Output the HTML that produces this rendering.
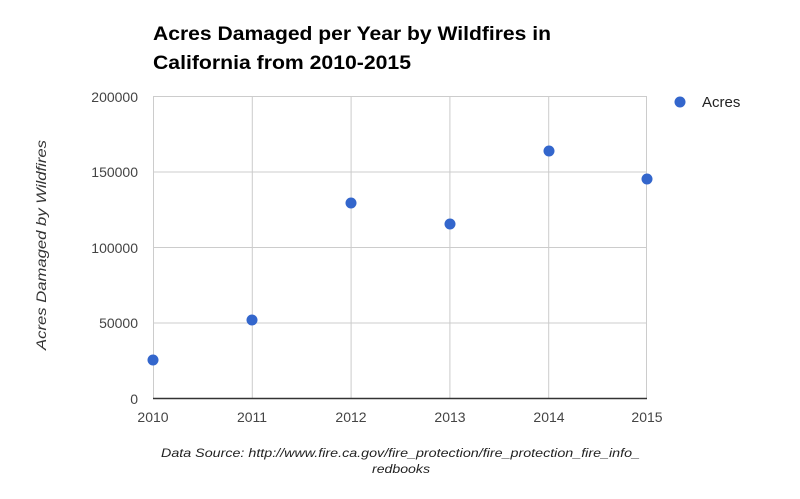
<!DOCTYPE html>
<html><head><style>body{margin:0;background:#fff}</style></head><body>
<svg width="800" height="494" xmlns="http://www.w3.org/2000/svg" font-family="Liberation Sans, sans-serif">
<rect width="800" height="494" fill="#fff"/>
<text x="153" y="40" font-size="19" font-weight="bold" fill="#000" textLength="398" lengthAdjust="spacingAndGlyphs">Acres Damaged per Year by Wildfires in</text>
<text x="153" y="69" font-size="19" font-weight="bold" fill="#000" textLength="258" lengthAdjust="spacingAndGlyphs">California from 2010-2015</text>
<g stroke="#ccc" stroke-width="1">
<line x1="153" y1="96.5" x2="647" y2="96.5"/>
<line x1="153" y1="172" x2="647" y2="172"/>
<line x1="153" y1="247.5" x2="647" y2="247.5"/>
<line x1="153" y1="323" x2="647" y2="323"/>
<line x1="153.5" y1="96" x2="153.5" y2="398"/>
<line x1="252.3" y1="96" x2="252.3" y2="398"/>
<line x1="351.1" y1="96" x2="351.1" y2="398"/>
<line x1="449.9" y1="96" x2="449.9" y2="398"/>
<line x1="548.7" y1="96" x2="548.7" y2="398"/>
<line x1="646.5" y1="96" x2="646.5" y2="398"/>
</g>
<line x1="153" y1="398.5" x2="647" y2="398.5" stroke="#333" stroke-width="1.5"/>
<g font-size="14" fill="#444" text-anchor="end">
<text x="138" y="102">200000</text>
<text x="138" y="177">150000</text>
<text x="138" y="253">100000</text>
<text x="138" y="328">50000</text>
<text x="138" y="404">0</text>
</g>
<g font-size="14" fill="#444" text-anchor="middle">
<text x="153" y="422">2010</text>
<text x="252" y="422">2011</text>
<text x="351" y="422">2012</text>
<text x="450" y="422">2013</text>
<text x="549" y="422">2014</text>
<text x="647" y="422">2015</text>
</g>
<text transform="translate(46,140) rotate(-90)" font-size="14" font-style="italic" fill="#333" text-anchor="end" textLength="210" lengthAdjust="spacingAndGlyphs">Acres Damaged by Wildfires</text>
<g fill="#3366cc">
<circle cx="153" cy="360" r="5.5"/>
<circle cx="252" cy="320" r="5.5"/>
<circle cx="351" cy="203" r="5.5"/>
<circle cx="450" cy="224" r="5.5"/>
<circle cx="549" cy="151" r="5.5"/>
<circle cx="647" cy="179" r="5.5"/>
<circle cx="680" cy="102" r="5.5"/>
</g>
<text x="702" y="107" font-size="15" fill="#222">Acres</text>
<text x="161" y="457" font-size="12" font-style="italic" fill="#222" textLength="479" lengthAdjust="spacingAndGlyphs">Data Source: http://www.fire.ca.gov/fire_protection/fire_protection_fire_info_</text>
<text x="372" y="473" font-size="12" font-style="italic" fill="#222" textLength="58" lengthAdjust="spacingAndGlyphs">redbooks</text>
</svg>
</body></html>
